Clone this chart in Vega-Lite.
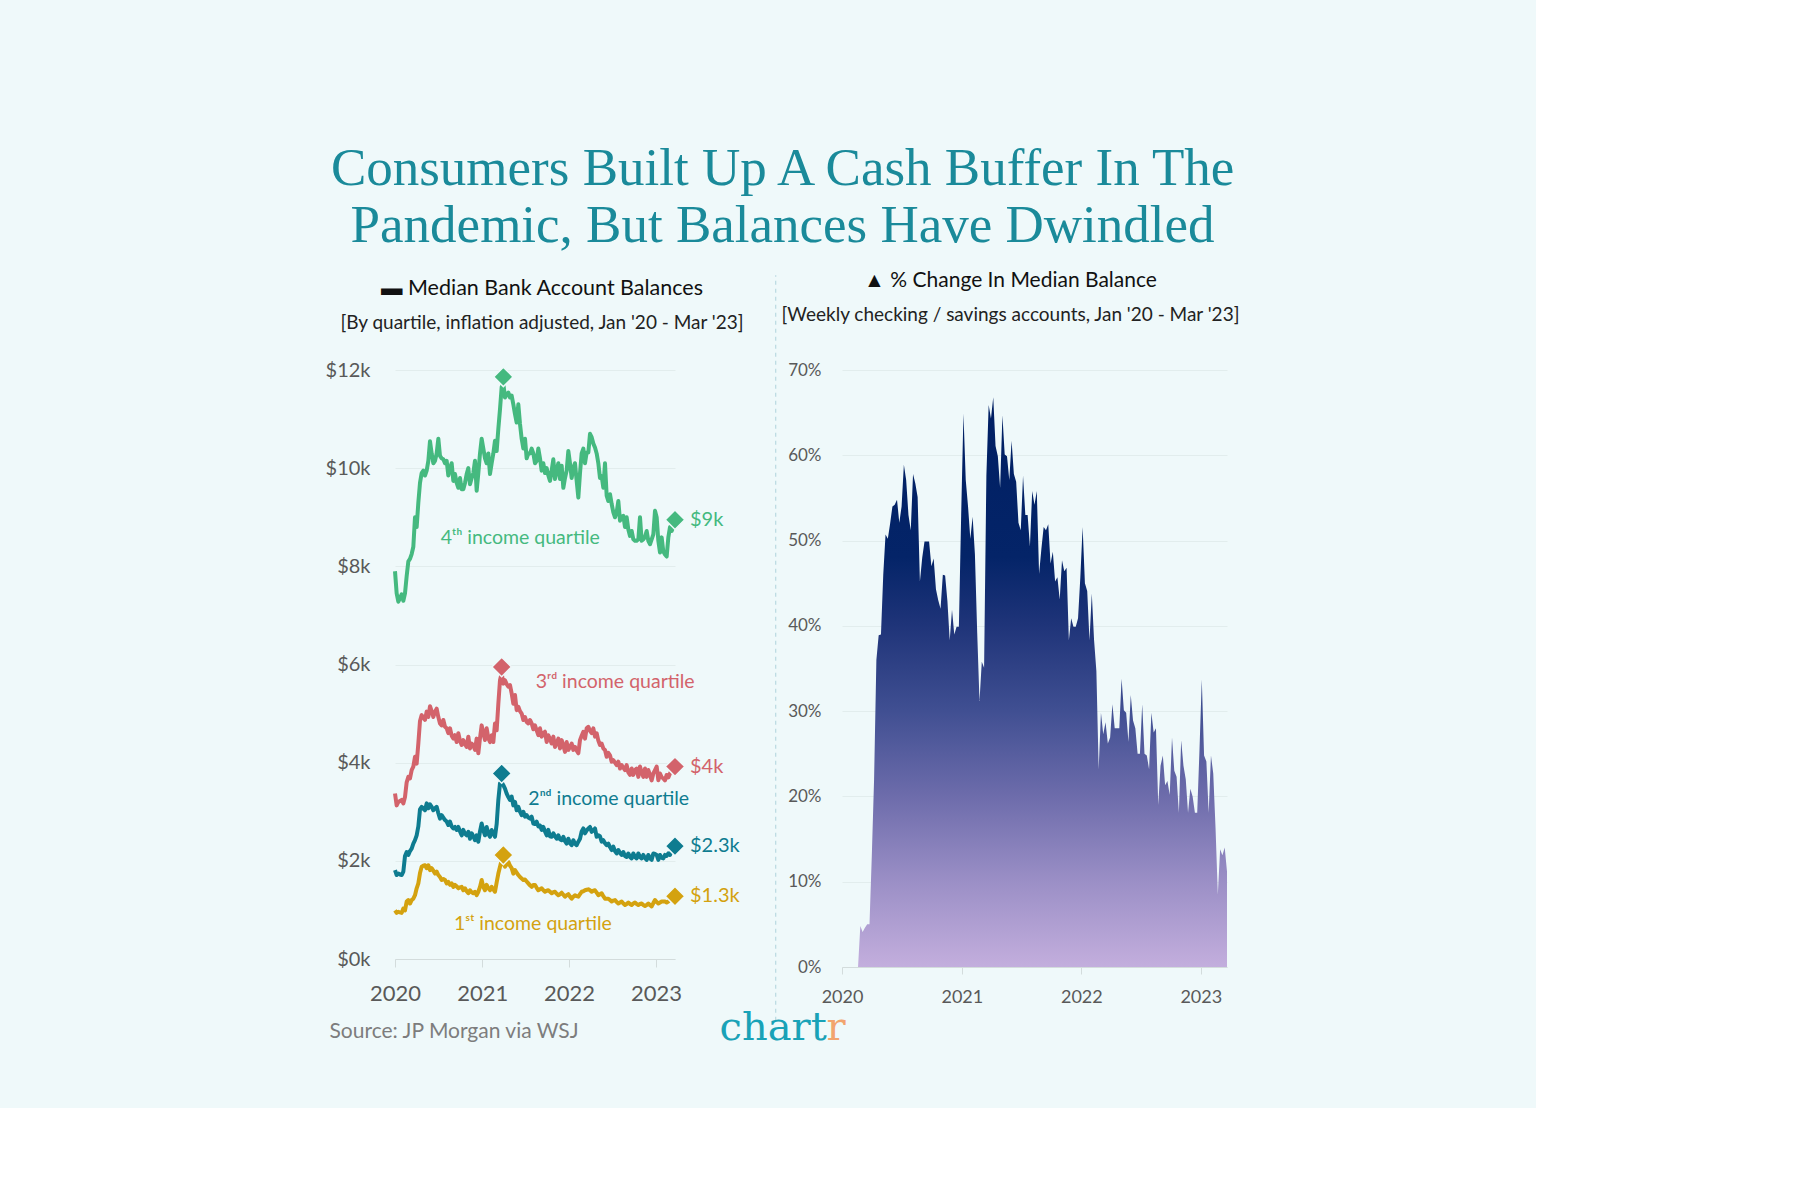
{
  "$schema": "https://vega.github.io/schema/vega-lite/v6.json",
  "background": "#eff9fa",
  "padding": {"left": 325, "top": 143, "right": 295, "bottom": 61},
  "title": {
    "text": ["Consumers Built Up A Cash Buffer In The", "Pandemic, But Balances Have Dwindled"],
    "font": "Liberation Serif",
    "fontSize": 53,
    "fontWeight": "normal",
    "lineHeight": 57,
    "color": "#1a8a9a",
    "anchor": "middle",
    "offset": 17
  },
  "datasets": {
    "weekly": [
      {"date": "2020-01-01", "q1": 0.99, "q2": 1.81, "q3": 3.37, "q4": 7.9, "p": 0},
      {"date": "2020-01-08", "q1": 0.94, "q2": 1.71, "q3": 3.13, "q4": 7.45, "p": 0},
      {"date": "2020-01-15", "q1": 0.96, "q2": 1.74, "q3": 3.2, "q4": 7.28, "p": 0},
      {"date": "2020-01-22", "q1": 0.95, "q2": 1.72, "q3": 3.22, "q4": 7.35, "p": 0},
      {"date": "2020-01-29", "q1": 0.94, "q2": 1.71, "q3": 3.24, "q4": 7.43, "p": 0},
      {"date": "2020-02-05", "q1": 1.03, "q2": 1.78, "q3": 3.17, "q4": 7.3, "p": 0},
      {"date": "2020-02-12", "q1": 0.99, "q2": 2.1, "q3": 3.3, "q4": 7.45, "p": 0},
      {"date": "2020-02-19", "q1": 1.17, "q2": 2.18, "q3": 3.6, "q4": 7.8, "p": 0},
      {"date": "2020-02-26", "q1": 1.2, "q2": 2.12, "q3": 3.71, "q4": 8.1, "p": 4.8},
      {"date": "2020-03-04", "q1": 1.13, "q2": 2.2, "q3": 3.68, "q4": 8.15, "p": 4.1},
      {"date": "2020-03-11", "q1": 1.2, "q2": 2.25, "q3": 3.85, "q4": 8.25, "p": 4.6},
      {"date": "2020-03-18", "q1": 1.23, "q2": 2.35, "q3": 3.92, "q4": 8.4, "p": 5.0},
      {"date": "2020-03-25", "q1": 1.3, "q2": 2.42, "q3": 4.12, "q4": 9.0, "p": 5.0},
      {"date": "2020-04-01", "q1": 1.44, "q2": 2.52, "q3": 3.98, "q4": 8.8, "p": 13},
      {"date": "2020-04-08", "q1": 1.54, "q2": 2.7, "q3": 4.39, "q4": 9.3, "p": 22},
      {"date": "2020-04-15", "q1": 1.75, "q2": 3.05, "q3": 4.85, "q4": 9.7, "p": 36},
      {"date": "2020-04-22", "q1": 1.88, "q2": 3.1, "q3": 4.97, "q4": 9.9, "p": 38.9},
      {"date": "2020-04-29", "q1": 1.9, "q2": 3.06, "q3": 4.92, "q4": 9.95, "p": 39},
      {"date": "2020-05-06", "q1": 1.91, "q2": 3.03, "q3": 4.87, "q4": 9.85, "p": 46},
      {"date": "2020-05-13", "q1": 1.85, "q2": 3.17, "q3": 5.04, "q4": 9.95, "p": 50.7},
      {"date": "2020-05-20", "q1": 1.91, "q2": 3.07, "q3": 4.93, "q4": 10.15, "p": 50.2},
      {"date": "2020-05-27", "q1": 1.81, "q2": 3.15, "q3": 5.15, "q4": 10.55, "p": 52},
      {"date": "2020-06-03", "q1": 1.85, "q2": 3.1, "q3": 5.05, "q4": 10.3, "p": 54},
      {"date": "2020-06-10", "q1": 1.8, "q2": 3.03, "q3": 4.93, "q4": 10.1, "p": 54.2},
      {"date": "2020-06-17", "q1": 1.74, "q2": 3.07, "q3": 5.04, "q4": 10.15, "p": 54.8},
      {"date": "2020-06-24", "q1": 1.78, "q2": 3.1, "q3": 5.1, "q4": 10.3, "p": 52.1},
      {"date": "2020-07-01", "q1": 1.71, "q2": 2.97, "q3": 4.93, "q4": 10.6, "p": 54},
      {"date": "2020-07-08", "q1": 1.67, "q2": 2.86, "q3": 4.8, "q4": 10.25, "p": 58.9},
      {"date": "2020-07-15", "q1": 1.61, "q2": 2.93, "q3": 4.76, "q4": 10.2, "p": 57.1},
      {"date": "2020-07-22", "q1": 1.63, "q2": 2.88, "q3": 4.87, "q4": 10.18, "p": 53},
      {"date": "2020-07-29", "q1": 1.61, "q2": 2.83, "q3": 4.73, "q4": 10.1, "p": 51.2},
      {"date": "2020-08-05", "q1": 1.54, "q2": 2.8, "q3": 4.7, "q4": 10.15, "p": 57.8},
      {"date": "2020-08-12", "q1": 1.57, "q2": 2.73, "q3": 4.6, "q4": 9.85, "p": 56.7},
      {"date": "2020-08-19", "q1": 1.51, "q2": 2.8, "q3": 4.7, "q4": 10.0, "p": 55.1},
      {"date": "2020-08-26", "q1": 1.54, "q2": 2.7, "q3": 4.55, "q4": 10.1, "p": 45.2},
      {"date": "2020-09-02", "q1": 1.47, "q2": 2.66, "q3": 4.49, "q4": 9.74, "p": 48},
      {"date": "2020-09-09", "q1": 1.51, "q2": 2.69, "q3": 4.56, "q4": 9.88, "p": 49.9},
      {"date": "2020-09-16", "q1": 1.48, "q2": 2.63, "q3": 4.42, "q4": 9.7, "p": 49.9},
      {"date": "2020-09-23", "q1": 1.44, "q2": 2.69, "q3": 4.6, "q4": 9.6, "p": 49.9},
      {"date": "2020-09-30", "q1": 1.46, "q2": 2.6, "q3": 4.45, "q4": 9.8, "p": 47},
      {"date": "2020-10-07", "q1": 1.47, "q2": 2.52, "q3": 4.36, "q4": 9.57, "p": 47.9},
      {"date": "2020-10-14", "q1": 1.4, "q2": 2.63, "q3": 4.46, "q4": 9.57, "p": 44.3},
      {"date": "2020-10-21", "q1": 1.44, "q2": 2.55, "q3": 4.38, "q4": 9.7, "p": 43},
      {"date": "2020-10-28", "q1": 1.38, "q2": 2.52, "q3": 4.32, "q4": 9.88, "p": 42},
      {"date": "2020-11-04", "q1": 1.34, "q2": 2.59, "q3": 4.53, "q4": 10.0, "p": 46},
      {"date": "2020-11-11", "q1": 1.4, "q2": 2.45, "q3": 4.29, "q4": 9.67, "p": 45.9},
      {"date": "2020-11-18", "q1": 1.36, "q2": 2.56, "q3": 4.39, "q4": 9.8, "p": 42.9},
      {"date": "2020-11-25", "q1": 1.34, "q2": 2.5, "q3": 4.35, "q4": 9.9, "p": 38.3},
      {"date": "2020-12-02", "q1": 1.37, "q2": 2.42, "q3": 4.26, "q4": 10.15, "p": 41.9},
      {"date": "2020-12-09", "q1": 1.3, "q2": 2.52, "q3": 4.49, "q4": 9.54, "p": 39},
      {"date": "2020-12-16", "q1": 1.37, "q2": 2.39, "q3": 4.19, "q4": 9.9, "p": 39.9},
      {"date": "2020-12-23", "q1": 1.47, "q2": 2.6, "q3": 4.5, "q4": 10.3, "p": 39.9},
      {"date": "2020-12-30", "q1": 1.61, "q2": 2.76, "q3": 4.76, "q4": 10.6, "p": 53},
      {"date": "2021-01-06", "q1": 1.47, "q2": 2.62, "q3": 4.6, "q4": 10.4, "p": 64.9},
      {"date": "2021-01-13", "q1": 1.4, "q2": 2.52, "q3": 4.46, "q4": 10.2, "p": 57.1},
      {"date": "2021-01-20", "q1": 1.51, "q2": 2.69, "q3": 4.7, "q4": 10.1, "p": 54},
      {"date": "2021-01-27", "q1": 1.44, "q2": 2.55, "q3": 4.5, "q4": 10.3, "p": 50.2},
      {"date": "2021-02-03", "q1": 1.4, "q2": 2.49, "q3": 4.42, "q4": 9.88, "p": 52.8},
      {"date": "2021-02-10", "q1": 1.47, "q2": 2.63, "q3": 4.56, "q4": 10.1, "p": 48.4},
      {"date": "2021-02-17", "q1": 1.42, "q2": 2.55, "q3": 4.42, "q4": 10.3, "p": 39.2},
      {"date": "2021-02-24", "q1": 1.37, "q2": 2.49, "q3": 4.8, "q4": 10.56, "p": 31.2},
      {"date": "2021-03-03", "q1": 1.56, "q2": 2.75, "q3": 4.66, "q4": 10.35, "p": 35.8},
      {"date": "2021-03-10", "q1": 1.74, "q2": 3.24, "q3": 5.2, "q4": 10.8, "p": 35.1},
      {"date": "2021-03-17", "q1": 1.88, "q2": 3.58, "q3": 5.68, "q4": 11.2, "p": 57.6},
      {"date": "2021-03-24", "q1": 2.02, "q2": 3.6, "q3": 5.82, "q4": 11.65, "p": 65.9},
      {"date": "2021-03-31", "q1": 1.95, "q2": 3.54, "q3": 5.61, "q4": 11.72, "p": 64.3},
      {"date": "2021-04-07", "q1": 1.88, "q2": 3.47, "q3": 5.68, "q4": 11.44, "p": 66.8},
      {"date": "2021-04-14", "q1": 1.93, "q2": 3.37, "q3": 5.6, "q4": 11.5, "p": 61.1},
      {"date": "2021-04-21", "q1": 1.98, "q2": 3.3, "q3": 5.55, "q4": 11.54, "p": 59.9},
      {"date": "2021-04-28", "q1": 1.9, "q2": 3.24, "q3": 5.58, "q4": 11.44, "p": 56.2},
      {"date": "2021-05-05", "q1": 1.85, "q2": 3.31, "q3": 5.41, "q4": 11.48, "p": 64.7},
      {"date": "2021-05-12", "q1": 1.74, "q2": 3.13, "q3": 5.2, "q4": 11.3, "p": 60.1},
      {"date": "2021-05-19", "q1": 1.81, "q2": 3.2, "q3": 5.38, "q4": 11.1, "p": 59.9},
      {"date": "2021-05-26", "q1": 1.76, "q2": 3.03, "q3": 5.07, "q4": 10.93, "p": 57.1},
      {"date": "2021-06-02", "q1": 1.71, "q2": 3.1, "q3": 5.14, "q4": 11.3, "p": 61.7},
      {"date": "2021-06-09", "q1": 1.67, "q2": 3.0, "q3": 5.05, "q4": 10.9, "p": 57.8},
      {"date": "2021-06-16", "q1": 1.64, "q2": 2.93, "q3": 5.0, "q4": 10.6, "p": 56.9},
      {"date": "2021-06-23", "q1": 1.61, "q2": 3.0, "q3": 4.87, "q4": 10.4, "p": 52.1},
      {"date": "2021-06-30", "q1": 1.62, "q2": 2.9, "q3": 4.93, "q4": 10.6, "p": 51.2},
      {"date": "2021-07-07", "q1": 1.58, "q2": 2.93, "q3": 4.83, "q4": 10.2, "p": 57.6},
      {"date": "2021-07-14", "q1": 1.54, "q2": 2.88, "q3": 4.8, "q4": 10.3, "p": 53},
      {"date": "2021-07-21", "q1": 1.5, "q2": 2.86, "q3": 4.87, "q4": 10.3, "p": 53},
      {"date": "2021-07-28", "q1": 1.47, "q2": 2.9, "q3": 4.8, "q4": 10.4, "p": 49.3},
      {"date": "2021-08-04", "q1": 1.51, "q2": 2.76, "q3": 4.68, "q4": 10.3, "p": 55.8},
      {"date": "2021-08-11", "q1": 1.51, "q2": 2.75, "q3": 4.76, "q4": 10.1, "p": 54.2},
      {"date": "2021-08-18", "q1": 1.45, "q2": 2.8, "q3": 4.66, "q4": 10.15, "p": 55.8},
      {"date": "2021-08-25", "q1": 1.4, "q2": 2.7, "q3": 4.56, "q4": 10.4, "p": 46.1},
      {"date": "2021-09-01", "q1": 1.42, "q2": 2.72, "q3": 4.7, "q4": 10.2, "p": 49},
      {"date": "2021-09-08", "q1": 1.44, "q2": 2.63, "q3": 4.53, "q4": 9.95, "p": 51.6},
      {"date": "2021-09-15", "q1": 1.4, "q2": 2.69, "q3": 4.6, "q4": 10.1, "p": 51.2},
      {"date": "2021-09-22", "q1": 1.37, "q2": 2.6, "q3": 4.63, "q4": 9.9, "p": 51.9},
      {"date": "2021-09-29", "q1": 1.39, "q2": 2.52, "q3": 4.42, "q4": 10.0, "p": 47.3},
      {"date": "2021-10-06", "q1": 1.4, "q2": 2.63, "q3": 4.56, "q4": 9.85, "p": 48.7},
      {"date": "2021-10-13", "q1": 1.37, "q2": 2.5, "q3": 4.48, "q4": 9.74, "p": 45.2},
      {"date": "2021-10-20", "q1": 1.34, "q2": 2.49, "q3": 4.39, "q4": 9.95, "p": 45.7},
      {"date": "2021-10-27", "q1": 1.36, "q2": 2.56, "q3": 4.53, "q4": 10.18, "p": 43.1},
      {"date": "2021-11-03", "q1": 1.37, "q2": 2.5, "q3": 4.32, "q4": 9.78, "p": 47.7},
      {"date": "2021-11-10", "q1": 1.33, "q2": 2.45, "q3": 4.4, "q4": 9.95, "p": 46.4},
      {"date": "2021-11-17", "q1": 1.3, "q2": 2.52, "q3": 4.49, "q4": 10.1, "p": 46.8},
      {"date": "2021-11-24", "q1": 1.32, "q2": 2.44, "q3": 4.29, "q4": 9.78, "p": 38.3},
      {"date": "2021-12-01", "q1": 1.35, "q2": 2.42, "q3": 4.46, "q4": 10.05, "p": 40.9},
      {"date": "2021-12-08", "q1": 1.31, "q2": 2.49, "q3": 4.35, "q4": 9.6, "p": 39.9},
      {"date": "2021-12-15", "q1": 1.27, "q2": 2.4, "q3": 4.22, "q4": 9.8, "p": 39.9},
      {"date": "2021-12-22", "q1": 1.3, "q2": 2.35, "q3": 4.42, "q4": 9.95, "p": 40.9},
      {"date": "2021-12-29", "q1": 1.32, "q2": 2.45, "q3": 4.26, "q4": 10.35, "p": 45.7},
      {"date": "2022-01-05", "q1": 1.27, "q2": 2.36, "q3": 4.32, "q4": 10.1, "p": 51.6},
      {"date": "2022-01-12", "q1": 1.23, "q2": 2.32, "q3": 4.39, "q4": 9.8, "p": 45},
      {"date": "2022-01-19", "q1": 1.27, "q2": 2.42, "q3": 4.26, "q4": 10.0, "p": 44.1},
      {"date": "2022-01-26", "q1": 1.3, "q2": 2.35, "q3": 4.32, "q4": 10.1, "p": 38.3},
      {"date": "2022-02-02", "q1": 1.28, "q2": 2.32, "q3": 4.25, "q4": 9.74, "p": 43.8},
      {"date": "2022-02-09", "q1": 1.27, "q2": 2.39, "q3": 4.19, "q4": 9.4, "p": 38.3},
      {"date": "2022-02-16", "q1": 1.32, "q2": 2.45, "q3": 4.46, "q4": 9.9, "p": 34.7},
      {"date": "2022-02-23", "q1": 1.37, "q2": 2.6, "q3": 4.55, "q4": 10.3, "p": 23.2},
      {"date": "2022-03-02", "q1": 1.38, "q2": 2.66, "q3": 4.63, "q4": 10.4, "p": 29.8},
      {"date": "2022-03-09", "q1": 1.4, "q2": 2.56, "q3": 4.49, "q4": 10.1, "p": 27.3},
      {"date": "2022-03-16", "q1": 1.41, "q2": 2.62, "q3": 4.7, "q4": 10.32, "p": 28.7},
      {"date": "2022-03-23", "q1": 1.42, "q2": 2.66, "q3": 4.73, "q4": 10.32, "p": 26.2},
      {"date": "2022-03-30", "q1": 1.4, "q2": 2.69, "q3": 4.65, "q4": 10.7, "p": 26.9},
      {"date": "2022-04-06", "q1": 1.37, "q2": 2.59, "q3": 4.6, "q4": 10.63, "p": 30.8},
      {"date": "2022-04-13", "q1": 1.39, "q2": 2.62, "q3": 4.7, "q4": 10.5, "p": 28},
      {"date": "2022-04-20", "q1": 1.4, "q2": 2.66, "q3": 4.53, "q4": 10.42, "p": 28},
      {"date": "2022-04-27", "q1": 1.35, "q2": 2.49, "q3": 4.6, "q4": 10.3, "p": 28},
      {"date": "2022-05-04", "q1": 1.3, "q2": 2.52, "q3": 4.45, "q4": 10.1, "p": 33.8},
      {"date": "2022-05-11", "q1": 1.32, "q2": 2.5, "q3": 4.36, "q4": 9.8, "p": 30.1},
      {"date": "2022-05-18", "q1": 1.34, "q2": 2.39, "q3": 4.39, "q4": 9.84, "p": 29.8},
      {"date": "2022-05-25", "q1": 1.28, "q2": 2.42, "q3": 4.29, "q4": 9.6, "p": 26.4},
      {"date": "2022-06-01", "q1": 1.23, "q2": 2.36, "q3": 4.26, "q4": 10.1, "p": 31.9},
      {"date": "2022-06-08", "q1": 1.23, "q2": 2.32, "q3": 4.12, "q4": 9.44, "p": 28.9},
      {"date": "2022-06-15", "q1": 1.23, "q2": 2.35, "q3": 4.2, "q4": 9.33, "p": 28},
      {"date": "2022-06-22", "q1": 1.2, "q2": 2.28, "q3": 4.15, "q4": 9.47, "p": 25},
      {"date": "2022-06-29", "q1": 1.17, "q2": 2.22, "q3": 4.02, "q4": 9.27, "p": 25},
      {"date": "2022-07-06", "q1": 1.19, "q2": 2.29, "q3": 4.05, "q4": 9.1, "p": 30.8},
      {"date": "2022-07-13", "q1": 1.2, "q2": 2.2, "q3": 4.0, "q4": 9.0, "p": 25},
      {"date": "2022-07-20", "q1": 1.16, "q2": 2.15, "q3": 3.95, "q4": 9.1, "p": 24.8},
      {"date": "2022-07-27", "q1": 1.13, "q2": 2.22, "q3": 4.02, "q4": 9.33, "p": 23.2},
      {"date": "2022-08-03", "q1": 1.15, "q2": 2.16, "q3": 3.88, "q4": 8.93, "p": 29.8},
      {"date": "2022-08-10", "q1": 1.17, "q2": 2.12, "q3": 3.95, "q4": 9.0, "p": 27.5},
      {"date": "2022-08-17", "q1": 1.13, "q2": 2.18, "q3": 3.9, "q4": 9.03, "p": 28},
      {"date": "2022-08-24", "q1": 1.1, "q2": 2.1, "q3": 3.85, "q4": 8.8, "p": 19},
      {"date": "2022-08-31", "q1": 1.12, "q2": 2.08, "q3": 3.95, "q4": 9.0, "p": 23.6},
      {"date": "2022-09-07", "q1": 1.15, "q2": 2.15, "q3": 3.8, "q4": 8.75, "p": 24.8},
      {"date": "2022-09-14", "q1": 1.12, "q2": 2.08, "q3": 3.75, "q4": 8.62, "p": 21.3},
      {"date": "2022-09-21", "q1": 1.1, "q2": 2.05, "q3": 3.88, "q4": 8.72, "p": 21.8},
      {"date": "2022-09-28", "q1": 1.13, "q2": 2.15, "q3": 3.75, "q4": 8.55, "p": 20.2},
      {"date": "2022-10-05", "q1": 1.15, "q2": 2.08, "q3": 3.85, "q4": 8.52, "p": 26.9},
      {"date": "2022-10-12", "q1": 1.12, "q2": 2.05, "q3": 3.88, "q4": 8.52, "p": 23},
      {"date": "2022-10-19", "q1": 1.1, "q2": 2.15, "q3": 3.71, "q4": 8.55, "p": 22.3},
      {"date": "2022-10-26", "q1": 1.12, "q2": 2.08, "q3": 3.92, "q4": 9.0, "p": 18.1},
      {"date": "2022-11-02", "q1": 1.13, "q2": 2.05, "q3": 3.8, "q4": 8.52, "p": 26.6},
      {"date": "2022-11-09", "q1": 1.1, "q2": 2.12, "q3": 3.71, "q4": 8.55, "p": 23.6},
      {"date": "2022-11-16", "q1": 1.08, "q2": 2.06, "q3": 3.88, "q4": 8.6, "p": 22},
      {"date": "2022-11-23", "q1": 1.1, "q2": 2.02, "q3": 3.71, "q4": 8.72, "p": 18.1},
      {"date": "2022-11-30", "q1": 1.13, "q2": 2.12, "q3": 3.85, "q4": 8.52, "p": 20.9},
      {"date": "2022-12-07", "q1": 1.1, "q2": 2.05, "q3": 3.75, "q4": 8.45, "p": 20},
      {"date": "2022-12-14", "q1": 1.07, "q2": 2.02, "q3": 3.64, "q4": 8.55, "p": 18.1},
      {"date": "2022-12-21", "q1": 1.14, "q2": 2.15, "q3": 3.78, "q4": 8.65, "p": 18.1},
      {"date": "2022-12-28", "q1": 1.2, "q2": 2.14, "q3": 3.85, "q4": 9.13, "p": 25.5},
      {"date": "2023-01-04", "q1": 1.16, "q2": 2.12, "q3": 3.92, "q4": 9.0, "p": 33.7},
      {"date": "2023-01-11", "q1": 1.13, "q2": 2.02, "q3": 3.64, "q4": 8.52, "p": 24.8},
      {"date": "2023-01-18", "q1": 1.15, "q2": 2.12, "q3": 3.78, "q4": 8.28, "p": 24.1},
      {"date": "2023-01-25", "q1": 1.17, "q2": 2.06, "q3": 3.7, "q4": 8.59, "p": 18.1},
      {"date": "2023-02-01", "q1": 1.17, "q2": 2.05, "q3": 3.68, "q4": 8.3, "p": 24.8},
      {"date": "2023-02-08", "q1": 1.17, "q2": 2.12, "q3": 3.64, "q4": 8.24, "p": 22.7},
      {"date": "2023-02-15", "q1": 1.15, "q2": 2.1, "q3": 3.75, "q4": 8.2, "p": 16.3},
      {"date": "2023-02-22", "q1": 1.17, "q2": 2.15, "q3": 3.7, "q4": 8.59, "p": 8.5},
      {"date": "2023-03-01", "q1": 1.2, "q2": 2.12, "q3": 3.78, "q4": 8.8, "p": 13.8},
      {"date": "2023-03-08", "q1": 1.22, "q2": 2.2, "q3": 3.85, "q4": 8.72, "p": 13.1},
      {"date": "2023-03-15", "q1": 1.25, "q2": 2.25, "q3": 3.88, "q4": 8.8, "p": 14},
      {"date": "2023-03-22", "q1": 1.28, "q2": 2.3, "q3": 3.92, "q4": 8.95, "p": 11.2}
    ],
    "markers": [
      {"date": "2021-03-31", "value": 11.86, "series": "q4"},
      {"date": "2021-03-24", "value": 5.95, "series": "q3"},
      {"date": "2021-03-24", "value": 3.78, "series": "q2"},
      {"date": "2021-03-31", "value": 2.12, "series": "q1"},
      {"date": "2023-03-22", "value": 8.95, "series": "q4", "label": "$9k"},
      {"date": "2023-03-22", "value": 3.92, "series": "q3", "label": "$4k"},
      {"date": "2023-03-22", "value": 2.3, "series": "q2", "label": "$2.3k"},
      {"date": "2023-03-22", "value": 1.28, "series": "q1", "label": "$1.3k"}
    ],
    "names": [
      {"date": "2020-07-11", "value": 8.57, "series": "q4", "label": "4ᵗʰ income quartile"},
      {"date": "2021-08-14", "value": 5.64, "series": "q3", "label": "3ʳᵈ income quartile"},
      {"date": "2021-07-14", "value": 3.26, "series": "q2", "label": "2ⁿᵈ income quartile"},
      {"date": "2020-09-05", "value": 0.71, "series": "q1", "label": "1ˢᵗ income quartile"}
    ]
  },
  "bounds": "flush",
  "spacing": 62,
  "hconcat": [
    {
      "width": 280,
      "height": 589,
      "title": {
        "text": "▬ Median Bank Account Balances",
        "subtitle": "[By quartile, inflation adjusted, Jan '20 - Mar '23]",
        "frame": "group",
        "anchor": "middle",
        "dx": 7,
        "font": "Lato",
        "fontSize": 21.5,
        "fontWeight": "normal",
        "color": "#111111",
        "subtitleFont": "Lato",
        "subtitleFontSize": 19,
        "subtitleColor": "#222222",
        "subtitlePadding": 15,
        "offset": 27
      },
      "encoding": {
        "x": {
          "field": "date",
          "type": "temporal",
          "scale": {
            "type": "utc",
            "domain": [
              {"year": 2020, "month": 1, "date": 1, "utc": true},
              {"year": 2023, "month": 3, "date": 22, "utc": true}
            ]
          },
          "axis": {
            "values": [
              {"year": 2020, "month": 1, "date": 1, "utc": true},
              {"year": 2021, "month": 1, "date": 1, "utc": true},
              {"year": 2022, "month": 1, "date": 1, "utc": true},
              {"year": 2023, "month": 1, "date": 1, "utc": true}
            ],
            "format": "%Y",
            "formatType": "utc",
            "labelFlush": false,
            "labelFontSize": 22,
            "labelPadding": 16,
            "tickSize": 8,
            "grid": false,
            "title": "Source: JP Morgan via WSJ",
            "titleFont": "Lato",
            "titleFontSize": 21,
            "titleFontWeight": "normal",
            "titleColor": "#7d7d7d",
            "titleAnchor": "start",
            "titleAlign": "left",
            "titleBaseline": "middle",
            "titleX": -66,
            "titleY": 72
          }
        },
        "y": {
          "field": "value",
          "type": "quantitative",
          "scale": {"domain": [0, 12]},
          "axis": {
            "values": [0, 2, 4, 6, 8, 10, 12],
            "labelExpr": "'$' + datum.value + 'k'",
            "labelFontSize": 20,
            "labelPadding": 25,
            "ticks": false,
            "domain": false,
            "grid": true,
            "title": null
          }
        },
        "color": {
          "field": "series",
          "type": "nominal",
          "scale": {
            "domain": ["q1", "q2", "q3", "q4"],
            "range": ["#d4a20f", "#0e7c90", "#d3636b", "#45b97f"]
          },
          "legend": null
        }
      },
      "layer": [
        {
          "data": {"name": "weekly"},
          "transform": [{"fold": ["q1", "q2", "q3", "q4"], "as": ["series", "value"]}],
          "mark": {"type": "line", "strokeWidth": 4, "strokeJoin": "round"}
        },
        {
          "data": {"name": "markers"},
          "mark": {"type": "point", "shape": "diamond", "filled": true, "size": 380, "opacity": 1, "stroke": "#eff9fa", "strokeWidth": 1.5}
        },
        {
          "data": {"name": "markers"},
          "transform": [{"filter": "datum.label"}],
          "mark": {"type": "text", "align": "left", "baseline": "middle", "dx": 15, "fontSize": 20, "font": "Lato"},
          "encoding": {"text": {"field": "label"}}
        },
        {
          "data": {"name": "names"},
          "mark": {"type": "text", "align": "left", "baseline": "middle", "fontSize": 19.5, "font": "Lato"},
          "encoding": {"text": {"field": "label"}}
        }
      ]
    },
    {
      "width": 43,
      "height": 597,
      "data": {"values": [{}]},
      "mark": {"type": "rule", "color": "#b9d9e1", "strokeDash": [4, 4], "strokeWidth": 1.2},
      "encoding": {
        "x": {"datum": 0.9, "type": "quantitative", "scale": {"domain": [0, 1]}, "axis": null},
        "y": {"datum": -6.3, "type": "quantitative", "scale": {"domain": [0, 70]}, "axis": null},
        "y2": {"datum": 81.1}
      }
    },
    {
      "width": 385,
      "height": 597,
      "title": {
        "text": "▲ % Change In Median Balance",
        "subtitle": "[Weekly checking / savings accounts, Jan '20 - Mar '23]",
        "frame": "group",
        "anchor": "middle",
        "dx": -24,
        "font": "Lato",
        "fontSize": 21,
        "fontWeight": "normal",
        "color": "#111111",
        "subtitleFont": "Lato",
        "subtitleFontSize": 19,
        "subtitleColor": "#222222",
        "subtitlePadding": 15,
        "offset": 36
      },
      "data": {"name": "weekly"},
      "mark": {
        "type": "area",
        "interpolate": "linear",
        "color": {
          "gradient": "linear",
          "x1": 0, "y1": 1, "x2": 0, "y2": 0,
          "stops": [
            {"offset": 0, "color": "#c3aedd"},
            {"offset": 0.15, "color": "#9b8fc6"},
            {"offset": 0.3, "color": "#6d6cab"},
            {"offset": 0.45, "color": "#404f92"},
            {"offset": 0.6, "color": "#1f3479"},
            {"offset": 0.72, "color": "#042468"},
            {"offset": 1, "color": "#001f63"}
          ]
        }
      },
      "encoding": {
        "x": {
          "field": "date",
          "type": "temporal",
          "scale": {
            "type": "utc",
            "domain": [
              {"year": 2020, "month": 1, "date": 1, "utc": true},
              {"year": 2023, "month": 3, "date": 22, "utc": true}
            ]
          },
          "axis": {
            "values": [
              {"year": 2020, "month": 1, "date": 1, "utc": true},
              {"year": 2021, "month": 1, "date": 1, "utc": true},
              {"year": 2022, "month": 1, "date": 1, "utc": true},
              {"year": 2023, "month": 1, "date": 1, "utc": true}
            ],
            "format": "%Y",
            "formatType": "utc",
            "labelFlush": false,
            "labelFontSize": 18,
            "labelPadding": 14,
            "tickSize": 7,
            "grid": false,
            "title": "chart",
            "titleFont": "DejaVu Serif",
            "titleFontSize": 40,
            "titleFontWeight": "normal",
            "titleColor": "#19a2b7",
            "titleAnchor": "start",
            "titleAlign": "left",
            "titleBaseline": "alphabetic",
            "titleX": -123,
            "titleY": 72
          }
        },
        "y": {
          "field": "p",
          "type": "quantitative",
          "scale": {"domain": [0, 70]},
          "axis": {
            "values": [0, 10, 20, 30, 40, 50, 60, 70],
            "labelExpr": "datum.value + '%'",
            "labelFontSize": 17,
            "labelPadding": 21,
            "ticks": false,
            "domain": false,
            "grid": true,
            "title": "r",
            "titleFont": "DejaVu Serif",
            "titleFontSize": 40,
            "titleFontWeight": "normal",
            "titleColor": "#f2a46e",
            "titleAngle": 0,
            "titleAlign": "left",
            "titleBaseline": "alphabetic",
            "titleX": -16,
            "titleY": 669
          }
        }
      }
    }
  ],
  "config": {
    "view": {"stroke": null},
    "font": "Lato",
    "axis": {
      "labelFont": "Lato",
      "labelColor": "#595959",
      "domainColor": "#d3dcdc",
      "tickColor": "#d3dcdc",
      "gridColor": "#e2eded",
      "gridWidth": 1
    }
  }
}
